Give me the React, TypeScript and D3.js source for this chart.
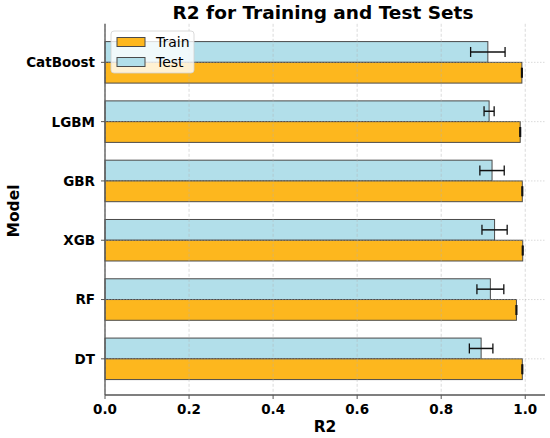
import React, { useEffect, useRef } from 'react';
import * as d3 from 'd3';

// models listed bottom to top, like matplotlib's barh order
const models = ['DT', 'RF', 'XGB', 'GBR', 'LGBM', 'CatBoost'];
const trainR2 = [0.993, 0.979, 0.994, 0.993, 0.988, 0.992];
const trainErr = [0.001, 0.001, 0.001, 0.001, 0.001, 0.001];
const testR2 = [0.895, 0.917, 0.927, 0.921, 0.914, 0.911];
const testErr = [0.028, 0.032, 0.03, 0.029, 0.012, 0.041];
const xTicks = [0, 0.2, 0.4, 0.6, 0.8, 1.0];

const App = () => {
  const svgRef = useRef<SVGSVGElement | null>(null);

  useEffect(() => {
    const width = 550;
    const height = 438;
    const font = 'DejaVu Sans, sans-serif';
    const trainColor = '#fdb71e';
    const testColor = '#b2dfea';
    const edge = '#4a4a4a';
    const barH = 0.35;

    const svg = d3.select(svgRef.current);
    svg.selectAll('*').remove();
    svg.attr('width', width).attr('height', height);

    const x = d3.scaleLinear().domain([0, 1.047]).range([105, 545]);
    const y = d3.scaleLinear().domain([-0.61, 5.65]).range([395, 23.8]);

    // bars (drawn under grid, like matplotlib default)
    const g = svg.append('g');
    g.selectAll('rect.test')
      .data(models)
      .enter()
      .append('rect')
      .attr('x', x(0))
      .attr('y', (_, i) => y(i + barH))
      .attr('width', (_, i) => x(testR2[i]) - x(0))
      .attr('height', (_, i) => y(i) - y(i + barH))
      .attr('fill', testColor)
      .attr('stroke', edge)
      .attr('stroke-width', 1);

    g.selectAll('rect.train')
      .data(models)
      .enter()
      .append('rect')
      .attr('x', x(0))
      .attr('y', (_, i) => y(i))
      .attr('width', (_, i) => x(trainR2[i]) - x(0))
      .attr('height', (_, i) => y(i - barH) - y(i))
      .attr('fill', trainColor)
      .attr('stroke', edge)
      .attr('stroke-width', 1);

    // grid
    const grid = svg.append('g');
    grid.selectAll('line.vg')
      .data(xTicks)
      .enter()
      .append('line')
      .attr('x1', (d) => x(d))
      .attr('x2', (d) => x(d))
      .attr('y1', y(5.65))
      .attr('y2', y(-0.61))
      .attr('stroke', '#b0b0b0')
      .attr('stroke-opacity', 0.6)
      .attr('stroke-width', 0.8)
      .attr('stroke-dasharray', '3,2');
    grid.selectAll('line.hg')
      .data(models)
      .enter()
      .append('line')
      .attr('x1', x(0))
      .attr('x2', x(1.047))
      .attr('y1', (_, i) => y(i))
      .attr('y2', (_, i) => y(i))
      .attr('stroke', '#b0b0b0')
      .attr('stroke-opacity', 0.6)
      .attr('stroke-width', 0.8)
      .attr('stroke-dasharray', '1.5,1.5');

    // error bars
    const drawErr = (vals: number[], errs: number[], off: number) => {
      models.forEach((_, i) => {
        const cy = y(i + off);
        const x0 = x(vals[i] - errs[i]);
        const x1 = x(vals[i] + errs[i]);
        svg.append('line').attr('x1', x0).attr('x2', x1).attr('y1', cy).attr('y2', cy)
          .attr('stroke', '#111').attr('stroke-width', 1.5);
        [x0, x1].forEach((cx) => {
          svg.append('line').attr('x1', cx).attr('x2', cx).attr('y1', cy - 5).attr('y2', cy + 5)
            .attr('stroke', '#111').attr('stroke-width', 1.3);
        });
      });
    };
    drawErr(testR2, testErr, barH / 2);
    drawErr(trainR2, trainErr, -barH / 2);

    // spines
    svg.append('line').attr('x1', x(0)).attr('x2', x(0)).attr('y1', y(5.65)).attr('y2', y(-0.61))
      .attr('stroke', '#555').attr('stroke-width', 1.3);
    svg.append('line').attr('x1', x(0)).attr('x2', x(1.047)).attr('y1', y(-0.61)).attr('y2', y(-0.61))
      .attr('stroke', '#555').attr('stroke-width', 1.3);

    // x ticks
    const xt = svg.append('g');
    xTicks.forEach((t) => {
      xt.append('line').attr('x1', x(t)).attr('x2', x(t)).attr('y1', 395).attr('y2', 399)
        .attr('stroke', '#555').attr('stroke-width', 1);
      xt.append('text').attr('x', x(t)).attr('y', 414).attr('text-anchor', 'middle')
        .attr('font-family', font).attr('font-weight', 'bold').attr('font-size', 13.5)
        .text(d3.format('.1f')(t));
    });

    // y ticks
    const yt = svg.append('g');
    models.forEach((m, i) => {
      yt.append('line').attr('x1', x(0) - 4).attr('x2', x(0)).attr('y1', y(i)).attr('y2', y(i))
        .attr('stroke', '#555').attr('stroke-width', 1);
      yt.append('text').attr('x', 95).attr('y', y(i)).attr('dy', '0.36em').attr('text-anchor', 'end')
        .attr('font-family', font).attr('font-weight', 'bold').attr('font-size', 13.5)
        .text(m);
    });

    // labels and title
    svg.append('text').attr('x', 325).attr('y', 432).attr('text-anchor', 'middle')
      .attr('font-family', font).attr('font-weight', 'bold').attr('font-size', 15.5).text('R2');
    svg.append('text').attr('transform', 'translate(19,211) rotate(-90)').attr('text-anchor', 'middle')
      .attr('font-family', font).attr('font-weight', 'bold').attr('font-size', 15.5).text('Model');
    svg.append('text').attr('x', 323).attr('y', 19).attr('text-anchor', 'middle')
      .attr('font-family', font).attr('font-weight', 'bold').attr('font-size', 18.5)
      .text('R2 for Training and Test Sets');

    // legend
    const lg = svg.append('g');
    lg.append('rect').attr('x', 111).attr('y', 31).attr('width', 83).attr('height', 42).attr('rx', 3)
      .attr('fill', 'white').attr('fill-opacity', 0.8).attr('stroke', '#d0d0d0').attr('stroke-width', 0.8);
    [
      { label: 'Train', color: trainColor },
      { label: 'Test', color: testColor }
    ].forEach((d, i) => {
      const cy = 42 + i * 20;
      lg.append('rect').attr('x', 117).attr('y', cy - 4.5).attr('width', 28).attr('height', 9)
        .attr('fill', d.color).attr('stroke', edge).attr('stroke-width', 1);
      lg.append('text').attr('x', 156).attr('y', cy).attr('dy', '0.36em')
        .attr('font-family', font).attr('font-size', 14).text(d.label);
    });
  }, []);

  return (
    <div style={{ position: 'absolute', left: 0, top: 0 }}>
      <svg ref={svgRef}></svg>
    </div>
  );
};

export default App;
